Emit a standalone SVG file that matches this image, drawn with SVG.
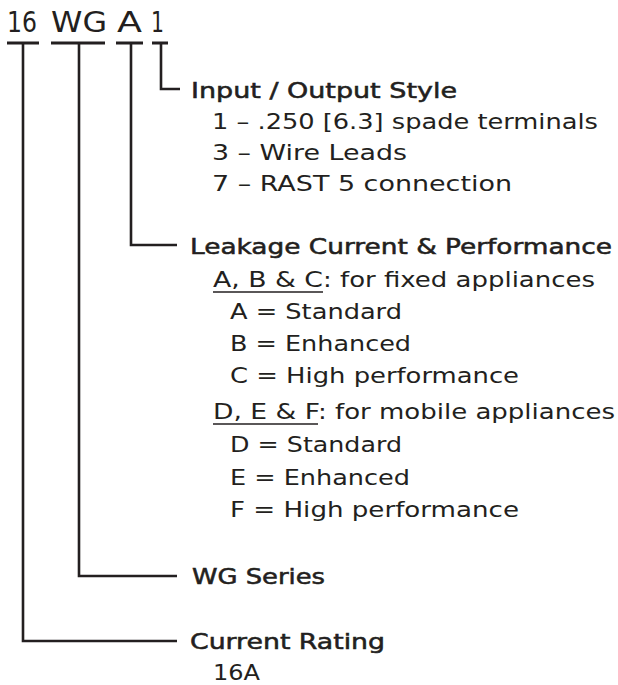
<svg xmlns="http://www.w3.org/2000/svg" width="618" height="685" viewBox="0 0 618 685">
<style>
text{font-family:"DejaVu Sans",sans-serif;fill:#231f20}
.code{font-size:29px;font-weight:400}
.head{font-size:22px;font-weight:400;stroke:#231f20;stroke-width:0.55}
.item{font-size:22px;font-weight:400}
.ln{fill:none;stroke:#231f20;stroke-width:2.6}
.bar{fill:none;stroke:#231f20;stroke-width:3}
.ul{fill:none;stroke:#231f20;stroke-width:1.5}
</style>
<rect width="618" height="685" fill="#fff"/>
<g id="code">
<text class="code" x="7" y="32" textLength="30" lengthAdjust="spacingAndGlyphs">16</text>
<text class="code" x="51" y="32" textLength="56" lengthAdjust="spacingAndGlyphs">WG</text>
<text class="code" x="117" y="32" textLength="25" lengthAdjust="spacingAndGlyphs">A</text>
<text class="code" x="151" y="32" textLength="13" lengthAdjust="spacingAndGlyphs">1</text>
</g>
<g id="connectors">
<path class="bar" d="M7 43H39M51 43H105M116 43H143M152 43H168"/>
<path class="ln" d="M161 43V89H180"/>
<path class="ln" d="M131 43V245H177"/>
<path class="ln" d="M79 43V576H177"/>
<path class="ln" d="M23 43V641H177"/>
</g>
<g id="io">
<text class="head" x="191" y="97.5" textLength="266" lengthAdjust="spacingAndGlyphs">Input / Output Style</text>
<text class="item" x="212" y="128.5" textLength="386" lengthAdjust="spacingAndGlyphs">1 – .250 [6.3] spade terminals</text>
<text class="item" x="212" y="159.5" textLength="195" lengthAdjust="spacingAndGlyphs">3 – Wire Leads</text>
<text class="item" x="212" y="190.5" textLength="300" lengthAdjust="spacingAndGlyphs">7 – RAST 5 connection</text>
</g>
<g id="leakage">
<text class="head" x="190" y="254" textLength="422" lengthAdjust="spacingAndGlyphs">Leakage Current &amp; Performance</text>
<text class="item" x="213" y="287"><tspan textLength="110" lengthAdjust="spacingAndGlyphs">A, B &amp; C</tspan><tspan textLength="272" lengthAdjust="spacingAndGlyphs">: for fixed appliances</tspan></text>
<path class="ul" d="M213 292H323"/>
<text class="item" x="230" y="319" textLength="172" lengthAdjust="spacingAndGlyphs">A = Standard</text>
<text class="item" x="230" y="351" textLength="181" lengthAdjust="spacingAndGlyphs">B = Enhanced</text>
<text class="item" x="230" y="383" textLength="289" lengthAdjust="spacingAndGlyphs">C = High performance</text>
<text class="item" x="213" y="419"><tspan textLength="105" lengthAdjust="spacingAndGlyphs">D, E &amp; F</tspan><tspan textLength="297" lengthAdjust="spacingAndGlyphs">: for mobile appliances</tspan></text>
<path class="ul" d="M213 424H318"/>
<text class="item" x="230" y="452" textLength="172" lengthAdjust="spacingAndGlyphs">D = Standard</text>
<text class="item" x="230" y="485" textLength="180" lengthAdjust="spacingAndGlyphs">E = Enhanced</text>
<text class="item" x="230" y="517" textLength="289" lengthAdjust="spacingAndGlyphs">F = High performance</text>
</g>
<g id="series">
<text class="head" x="192" y="584" textLength="133" lengthAdjust="spacingAndGlyphs">WG Series</text>
</g>
<g id="rating">
<text class="head" x="190" y="649" textLength="195" lengthAdjust="spacingAndGlyphs">Current Rating</text>
<text class="item" x="213" y="680" textLength="47" lengthAdjust="spacingAndGlyphs">16A</text>
</g>
</svg>
